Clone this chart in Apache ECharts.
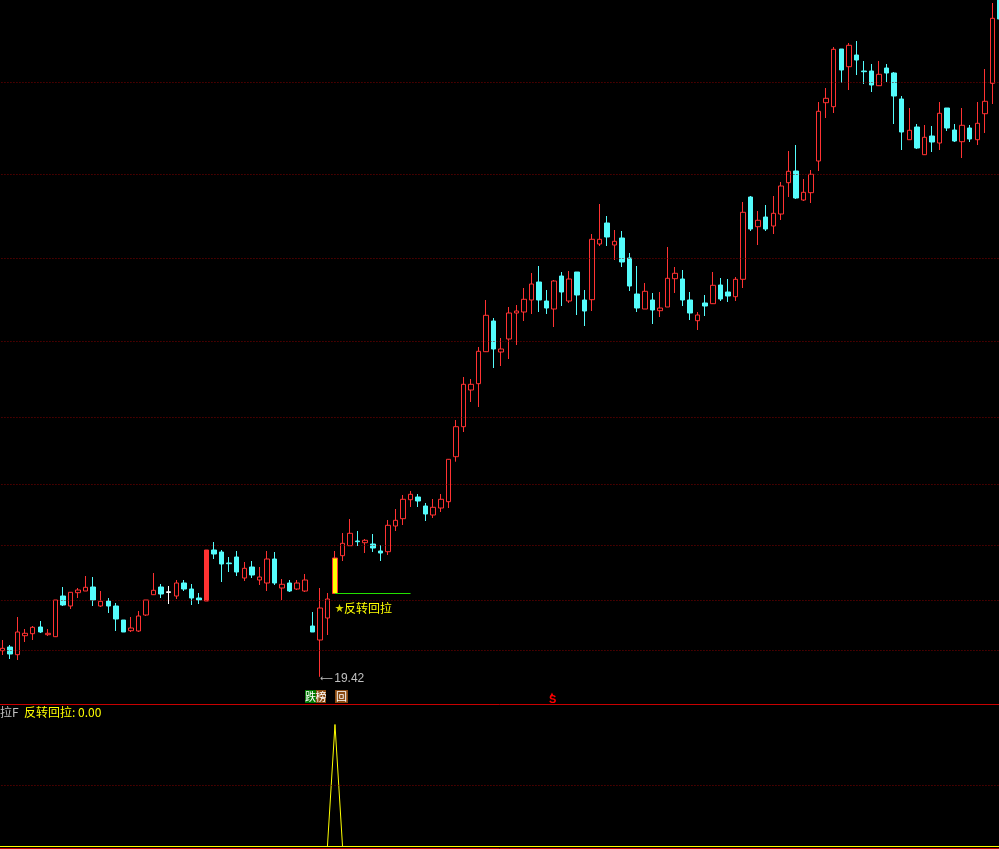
<!DOCTYPE html>
<html>
<head>
<meta charset="utf-8">
<style>html,body{margin:0;padding:0;background:#000}#c{width:999px;height:849px}</style>
<script src="https://cdn.jsdelivr.net/npm/echarts@6/dist/echarts.min.js"></script>
</head>
<body>
<div id="c"></div>
<script>
// R up (hollow red), C down (cyan), S solid red, Y yellow marker, W white doji
var kinds = "RCRRRCRRCR" + "RRCRCCCRRR" + "RCWRCCCSCC" + "CCRCRRCRCR" + "RCRRYRRCRC" +
            "CRRRRCCRRR" + "RRRRRCRRRR" + "RCCRCRCCRR" + "CRCCCRCRRR" + "CCRCRCCRRC" +
            "RCRRRCRRRR" + "RCRCCCRCCC" + "RCRCRCCRCR" + "RRC";
var highs = [23.1,22.6,25.4,24.2,24.5,25,24.2,27.1,28.4,27.9,
 28.3,29.5,29.4,28,27.3,26.8,25.1,25.4,26,27.1,
 29.8,28.7,28.5,29.1,29.1,28.7,27.8,32.1,32.9,32.1,
 31.4,32,30.9,31,30.4,32,31.9,29.2,29.1,29.1,
 29.7,25.9,28.3,27.8,32,33.8,35.2,34,33.2,33.7,
 32.6,35.1,36.2,37.6,38,37.7,36.8,37.2,37.7,41.2,
 45.1,49.4,49.2,52.4,57.1,55.3,53.3,56.4,56.6,58.3,
 59.8,60.5,58.1,59.1,59.9,60,59.9,58.1,63.7,66.7,
 65.5,64.1,64,61.8,60.5,58.8,57.8,57.9,62.4,60.4,
 60.1,57.9,55.9,57.6,59.9,59.3,59.2,59.4,66.9,67.5,
 66,66.6,67.5,68.9,72,72.6,69.2,70.1,76.9,78.3,
 82.4,82.2,82.8,83,81,80.7,81,80.7,79.9,77.5,
 76.3,74.7,74.6,74.5,76.9,76.3,74.7,76.3,74.6,76.9,
 80.2,86.8,87.1];
var bodyTops = [22.27,22.4,23.9,23.77,24.37,24.4,23.77,27.1,27.5,27.87,
 28.1,28.37,28.4,26.97,27,26.5,25.1,24.3,25.5,27.1,
 28.07,28.4,27.92,28.8,28.8,28.2,27.3,32.1,32.1,31.9,
 30.8,31.4,30.27,30.4,29.4,31.2,31.2,28.67,28.8,28.8,
 29.1,24.5,26.3,27.2,31.3,32.77,33.77,33,33.07,32.7,
 32,34.57,35.07,37.17,37.67,37.4,36.5,36.37,37.17,41.17,
 44.43,48.67,48.67,51.97,55.57,55,52.2,55.8,56,57.17,
 58.7,58.9,57,59,59.5,59.2,59.9,57.1,63.17,63.17,
 64.8,62.97,63.3,61.3,57.7,57.97,57.1,56.3,59.27,59.77,
 59.2,57.1,55.6,56.8,58.57,58.6,57.9,59.17,65.87,67.4,
 65.07,65.4,65.77,68.5,69.97,70,67.87,69.67,75.97,77.27,
 82.17,82.2,82.57,81.6,80,80,79.67,80.3,79.8,77.2,
 74.07,74.4,73.37,73.5,75.77,76.3,74.1,74.57,74.3,74.77,
 76.97,85.27,87.1];
var bodyBottoms = [22.03,21.7,21.63,23.53,23.73,23.9,23.63,23.43,26.6,26.5,
 27.83,28,27.1,26.5,26.5,25.2,23.9,24.03,24,25.6,
 27.63,27.7,27.86,27.5,28.2,27.3,27.1,27,31.7,30.7,
 30.73,29.9,29.3,29.6,29.1,28.8,28.8,28.3,28,28.2,
 28,23.9,23.1,25.3,27.75,31.53,32.53,32.93,32.83,32.3,
 31.8,31.93,34.5,35.23,37.13,37,35.7,35.6,36.3,36.93,
 41.43,44.43,48.1,48.73,51.93,52.2,51.9,53.2,55.8,55.9,
 57.1,57.1,56.3,56.2,57.9,57,57.6,56,57.13,62.7,
 63.4,62.6,60.9,58.5,56.3,56.2,56.1,56.03,56.4,59.23,
 57.1,55.8,55.03,56.5,56.73,57.2,57.5,57.43,59.17,64.2,
 64.43,64.2,64.5,65.7,68.83,67.3,67.1,67.83,71,76.83,
 76.43,80.1,80.43,81.1,79.93,78.6,78.53,79.8,77.5,73.9,
 73.13,72.3,71.63,72.9,72.8,74.3,73,72.93,73.2,73.13,
 75.73,78.77,85.2];
var lows = [21.6,21.2,21.1,22.9,23.1,23.8,23.5,23.4,26.5,26.2,
 27.3,28,26.5,26.4,25.8,24,23.9,23.9,23.9,25.5,
 27.6,27.3,26.7,27.2,28,26.6,26.7,27,31.2,28.9,
 29.9,29.5,29,29.3,28.6,28,28.6,27.1,27.9,28.1,
 27.9,23.9,19.42,23.6,27.7,31,32.5,32.5,31.8,31.9,
 31,31.6,34,34.6,36.4,36.4,35,35.3,35.9,36.3,
 40.93,43.9,46.9,46.4,51.9,50.3,50.5,51.2,52.6,55,
 55.7,55.9,55.7,54.4,56.5,56.8,55.6,54.5,56,62.5,
 62.5,61.1,60.4,58,55.9,56.2,54.7,55.4,56.4,57.8,
 56.5,55.1,54.1,55.5,56.7,57,56.9,57,58.3,64,
 62.6,64,63.7,65.1,67.4,67.2,67,66.8,70,75.3,
 75.8,78.8,78.1,79.6,78.7,77.9,78.5,78.9,74.7,72.1,
 73.1,72.2,71.6,71.9,72.1,74,72.9,71.3,72.9,72.6,
 73.8,76.7,85.2];
var pulseValues = [0,0,0,0,0,0,0,0,0,0,0,0,0,0,0,0,0,0,0,0,
 0,0,0,0,0,0,0,0,0,0,0,0,0,0,0,0,0,0,0,0,
 0,0,0,0,1,0,0,0,0,0,0,0,0,0,0,0,0,0,0,0,
 0,0,0,0,0,0,0,0,0,0,0,0,0,0,0,0,0,0,0,0,
 0,0,0,0,0,0,0,0,0,0,0,0,0,0,0,0,0,0,0,0,
 0,0,0,0,0,0,0,0,0,0,0,0,0,0,0,0,0,0,0,0,
 0,0,0,0,0,0,0,0,0,0,0,0,0];
var gridPrices = [78.85,69.65,61.25,52.95,45.35,38.65,32.55,27.05,22.05];
var lowerGridValues = [0.5];
var lowLabel = "19.42";
var signalLevel = 27.75;
var signalName = "反转回拉";
var panelTitle = "拉F";
var panelValue = "反转回拉: 0.00";

var RED = "#ff3232", CYAN = "#54fcfc", YEL = "#ffff00", DOT = "#800000", SEP = "#c80000";
var cats = kinds.split("").map(function (k, i) { return String(i); });
var candleData = kinds.split("").map(function (k, i) {
  var up = k === "R" || k === "S" || k === "Y";
  var v = {value: up ? [bodyBottoms[i], bodyTops[i], lows[i], highs[i]]
                     : [bodyTops[i], bodyBottoms[i], lows[i], highs[i]]};
  if (k === "S") v.itemStyle = {color: RED, borderColor: RED};
  if (k === "Y") v.itemStyle = {color: YEL, borderColor: RED};
  if (k === "W") v.itemStyle = {color0: "#fff", borderColor0: "#fff"};
  return v;
});
var cjk = '"Noto Sans CJK SC","Liberation Sans",sans-serif';
var num = '"Liberation Sans",sans-serif';

function badge(x, w, color, txt) {
  return {type: "group", children: [
    {type: "rect", shape: {x: x, y: 690, width: w, height: 13}, style: {fill: color}, silent: true},
    {type: "text", x: x + w / 2, y: 696.5, silent: true,
     style: {text: txt, fill: "#fff", font: "11px " + cjk, textAlign: "center", textVerticalAlign: "middle"}}
  ]};
}

var chart = echarts.init(document.getElementById("c"), null, {renderer: "canvas"});
chart.setOption({
  animation: false,
  backgroundColor: "#000",
  grid: [
    {left: -1.28, top: 0, width: 1005, height: 704.5, outerBoundsMode: "none"},
    {left: -1.28, top: 705, width: 1005, height: 143.5, outerBoundsMode: "none"}
  ],
  xAxis: [0, 1].map(function (g) {
    return {type: "category", gridIndex: g, data: cats, boundaryGap: true,
      axisLine: {show: true, onZero: false, lineStyle: {color: SEP, width: 1}},
      axisTick: {show: false}, axisLabel: {show: false}, splitLine: {show: false}};
  }),
  yAxis: [
    {type: "value", gridIndex: 0, min: 16.65, max: 87.1, show: false, splitLine: {show: false}},
    {type: "value", gridIndex: 1, min: -0.0164, max: 1.1598, show: false, splitLine: {show: false}}
  ],
  series: [
    {type: "line", xAxisIndex: 0, yAxisIndex: 0, data: [], z: 1, silent: true,
     markLine: {silent: true, symbol: "none", label: {show: false}, animation: false,
       lineStyle: {color: DOT, type: [1, 2], dashOffset: 0.28, width: 1},
       data: gridPrices.map(function (p) { return {yAxis: p}; })}},
    {type: "candlestick", xAxisIndex: 0, yAxisIndex: 0, data: candleData, barWidth: 5, z: 3,
     itemStyle: {color: "#000", color0: CYAN, borderColor: RED, borderColor0: CYAN, borderWidth: 1},
     markLine: {silent: true, symbol: "none", label: {show: false}, animation: false,
       data: [[{coord: [44, signalLevel], lineStyle: {color: "#22e000", width: 1, type: "solid"}},
               {coord: [54, signalLevel]}]]},
     markPoint: {silent: true, animation: false, data: [
       {coord: [42, lows[42]], symbol: "circle", symbolSize: 1, itemStyle: {color: "rgba(0,0,0,0)"},
        label: {show: true, position: "right", distance: 0, offset: [0, 2], formatter: "{a|⟵}{n|" + lowLabel + "}",
          rich: {a: {color: "#c0c0c0", fontSize: 9, fontFamily: "DejaVu Sans"},
                 n: {color: "#c0c0c0", fontSize: 12, fontFamily: "Liberation Sans", padding: [0, 0, 0, 1]}}}},
       {coord: [44, signalLevel], symbol: "circle", symbolSize: 1, itemStyle: {color: "rgba(0,0,0,0)"},
        label: {show: true, position: "bottom", align: "left", distance: 8, offset: [0, 0],
          formatter: "{s|★}{t|" + signalName + "}",
          rich: {s: {color: "#d8d800", fontSize: 9, fontFamily: cjk}, t: {color: YEL, fontSize: 12, fontFamily: cjk}}}}
     ]}},
    {type: "line", xAxisIndex: 1, yAxisIndex: 1, data: pulseValues, showSymbol: false, z: 3, silent: true,
     lineStyle: {color: YEL, width: 1},
     markLine: {silent: true, symbol: "none", label: {show: false}, animation: false,
       data: lowerGridValues.map(function (v) { return {yAxis: v, lineStyle: {color: DOT, type: [1, 2], dashOffset: 0.28, width: 1}}; })
         .concat([{yAxis: 0, lineStyle: {color: YEL, type: "solid", width: 1}}])}}
  ],
  graphic: {elements: [
    {type: "text", left: 0, top: 706, silent: true, style: {text: panelTitle, fill: "#c0c0c0", font: "12px " + cjk}},
    {type: "text", left: 24, top: 706, silent: true, style: {text: panelValue, fill: YEL, font: "12px " + cjk}},
    badge(305, 11, "#007800", "跌"),
    badge(316, 10, "#8a4a10", "榜"),
    badge(335, 13, "#8a4a10", "回"),
    {type: "text", left: 549, top: 691, silent: true, style: {text: "▲", fill: "#ff0000", font: "6px " + num}},
    {type: "text", left: 549, top: 694, silent: true, style: {text: "S", fill: "#ff0000", font: "bold 11px " + num}}
  ]}
});
</script>
</body>
</html>
